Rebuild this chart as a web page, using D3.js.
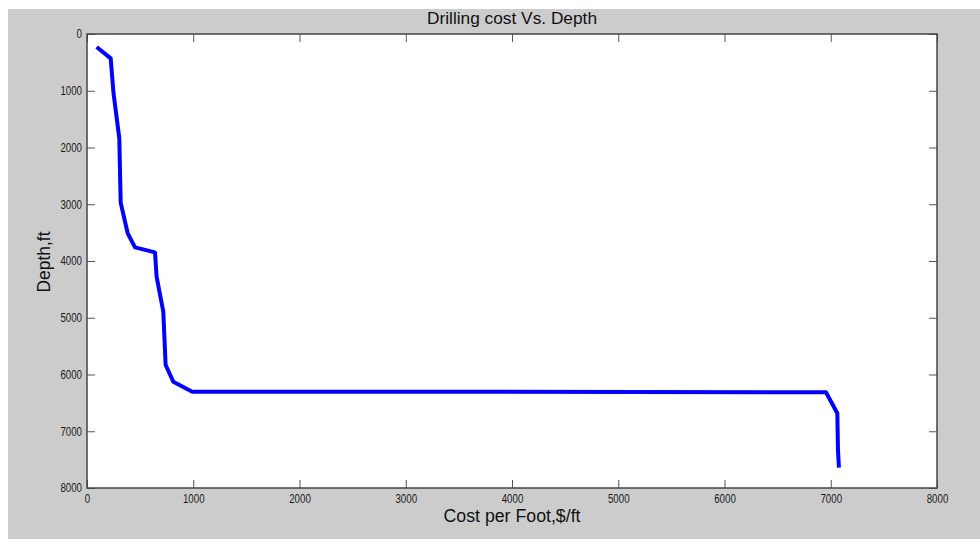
<!DOCTYPE html>
<html>
<head>
<meta charset="utf-8">
<script src="https://cdn.jsdelivr.net/npm/d3@7"></script>
<style>
  body { margin: 0; background: #fff; }
  svg text { font-family: "Liberation Sans", Arial, sans-serif; }
</style>
</head>
<body>
<div id="chart"></div>
<script>
// cost per foot ($/ft) and depth (ft)
var costs = [91, 223, 250, 304, 317, 383, 452, 640, 655, 718, 740, 812, 991, 3970, 6955, 7062, 7068, 7077];
var depths = [229, 429, 1050, 1838, 2972, 3512, 3759, 3847, 4276, 4893, 5833, 6126, 6303, 6303, 6314, 6684, 7330, 7642];

var xTicks = [0, 1000, 2000, 3000, 4000, 5000, 6000, 7000, 8000];
var yTicks = [0, 1000, 2000, 3000, 4000, 5000, 6000, 7000, 8000];

var width = 980, height = 539;
var margin = {left: 87, right: 43, top: 34, bottom: 51};

var svg = d3.select('#chart').append('svg')
    .attr('width', width)
    .attr('height', height);

// grey figure background
svg.append('rect')
    .attr('x', 8).attr('y', 9)
    .attr('width', width - 8).attr('height', height - 9)
    .attr('fill', '#cccccc');

var x = d3.scaleLinear().domain([0, 8000]).range([margin.left, width - margin.right]);
var y = d3.scaleLinear().domain([0, 8000]).range([margin.top, height - margin.bottom]);

// plot area
svg.append('rect')
    .attr('x', x(0)).attr('y', y(0))
    .attr('width', x(8000) - x(0)).attr('height', y(8000) - y(0))
    .attr('fill', '#fff');

// the labels in the picture look squeezed, so fix their width
function styleAxis(g){
    g.select('.domain').remove();
    g.selectAll('.tick line').attr('stroke', '#555').attr('stroke-width', 1);
    g.selectAll('.tick text')
        .attr('fill', '#1a1a1a')
        .attr('font-size', 12)
        .attr('lengthAdjust', 'spacingAndGlyphs')
        .attr('textLength', function(){ return this.textContent.length * 5.4; });
}

svg.append('g')
    .attr('transform', 'translate(0,' + y(8000) + ')')
    .call(d3.axisBottom(x).tickValues(xTicks).tickFormat(d3.format('d')).tickSizeInner(-8).tickPadding(6))
    .call(styleAxis);

svg.append('g')
    .attr('transform', 'translate(0,' + y(0) + ')')
    .call(d3.axisTop(x).tickValues(xTicks).tickFormat('').tickSizeInner(-8))
    .call(styleAxis);

svg.append('g')
    .attr('transform', 'translate(' + x(0) + ',0)')
    .call(d3.axisLeft(y).tickValues(yTicks).tickFormat(d3.format('d')).tickSizeInner(-8).tickPadding(5))
    .call(styleAxis);

svg.append('g')
    .attr('transform', 'translate(' + x(8000) + ',0)')
    .call(d3.axisRight(y).tickValues(yTicks).tickFormat('').tickSizeInner(-8))
    .call(styleAxis);

// box
svg.append('rect')
    .attr('x', x(0)).attr('y', y(0))
    .attr('width', x(8000) - x(0)).attr('height', y(8000) - y(0))
    .attr('fill', 'none')
    .attr('stroke', '#444')
    .attr('stroke-width', 1.5);

var line = d3.line()
    .x(function(d, i){ return x(costs[i]); })
    .y(function(d, i){ return y(depths[i]); });

svg.append('path')
    .datum(costs)
    .attr('d', line)
    .attr('fill', 'none')
    .attr('stroke', '#0000ff')
    .attr('stroke-width', 4)
    .attr('stroke-linejoin', 'round');

// titles
svg.append('text')
    .attr('x', (x(0) + x(8000)) / 2).attr('y', 24)
    .attr('text-anchor', 'middle')
    .attr('font-size', 17)
    .attr('fill', '#111')
    .attr('lengthAdjust', 'spacingAndGlyphs')
    .attr('textLength', 170)
    .text('Drilling cost Vs. Depth');

svg.append('text')
    .attr('x', (x(0) + x(8000)) / 2).attr('y', 522)
    .attr('text-anchor', 'middle')
    .attr('font-size', 18)
    .attr('fill', '#111')
    .attr('lengthAdjust', 'spacingAndGlyphs')
    .attr('textLength', 137)
    .text('Cost per Foot,$/ft');

svg.append('text')
    .attr('transform', 'translate(50,262) rotate(-90)')
    .attr('text-anchor', 'middle')
    .attr('font-size', 18)
    .attr('fill', '#111')
    .attr('lengthAdjust', 'spacingAndGlyphs')
    .attr('textLength', 61)
    .text('Depth,ft');
</script>
</body>
</html>
